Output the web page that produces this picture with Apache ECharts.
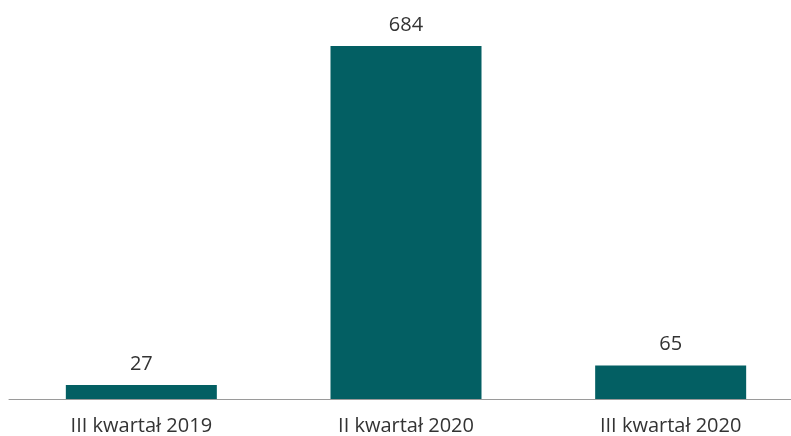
<!DOCTYPE html>
<html>
<head>
<meta charset="utf-8">
<script src="https://cdn.jsdelivr.net/npm/echarts@6/dist/echarts.min.js"></script>
<style>
  html, body { margin: 0; padding: 0; background: #fff; overflow: hidden; }
</style>
</head>
<body>
<!-- kontener szerszy niż okno: prawa część osi wychodzi poza kadr jak w oryginale -->
<div id="chart" style="width: 803px;height: 436px"></div>
<script>
// kategorie i wartości
const categories = ['III kwartał 2019', 'II kwartał 2020', 'III kwartał 2020']
const values = [27, 684, 65]

let chart = echarts.init(document.getElementById('chart'))
chart.setOption({
  backgroundColor: '#ffffff',
  animation: false,
  grid: {
    left: 9,
    right: 0,
    top: 46,
    bottom: 37,
  },
  xAxis: {
    type: 'category',
    data: categories,
    axisTick: { show: false },
    axisLine: { lineStyle: { color: '#9a9a9a', width: 1 } },
    axisLabel: {
      color: '#333333',
      fontSize: 20,
      fontFamily: 'Open Sans',
      margin: 17,
    },
  },
  yAxis: {
    type: 'value',
    min: 0,
    max: 684,
    show: false,
    splitLine: { show: false },
  },
  series: [
    {
      type: 'bar',
      data: values,
      barWidth: 151,
      itemStyle: { color: '#035f63' },
      label: {
        show: true,
        position: 'top',
        distance: 11,
        color: '#333333',
        fontSize: 20,
        fontFamily: 'Open Sans',
      },
    },
  ],
})
</script>
</body>
</html>
